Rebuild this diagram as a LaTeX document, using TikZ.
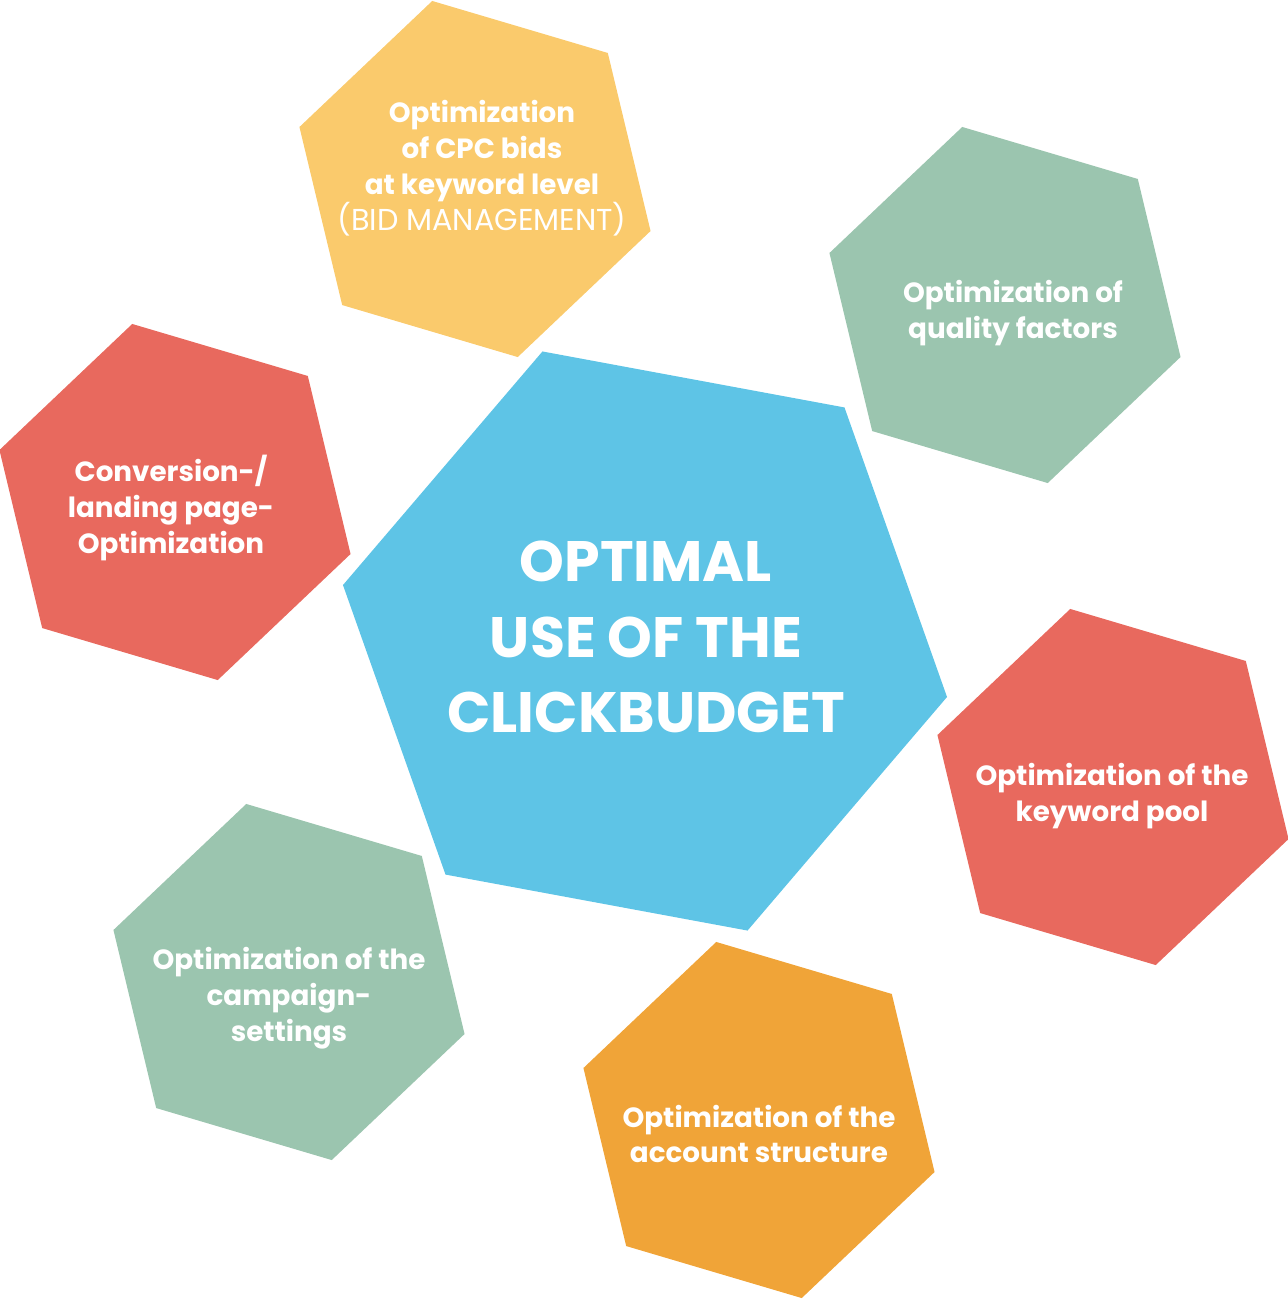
\documentclass[tikz,border=0pt]{standalone}
\usepackage{fontspec}
\setmainfont{Poppins}
\usetikzlibrary{shapes.geometric}
\definecolor{hexyellow}{RGB}{250,202,108}
\definecolor{hexgreen}{RGB}{155,197,175}
\definecolor{hexred}{RGB}{232,105,94}
\definecolor{hexblue}{RGB}{94,196,230}
\definecolor{hexorange}{RGB}{240,164,56}

\begin{document}
\begin{tikzpicture}[
  x=0.01cm, y=-0.01cm,
  hexbig/.style={regular polygon, regular polygon sides=6, shape border rotate=-10.5, minimum size=6.14cm, inner sep=0pt, outer sep=0pt},
  hexsmall/.style={regular polygon, regular polygon sides=6, shape border rotate=-16.5, minimum size=3.66cm, inner sep=0pt, outer sep=0pt},
  lbl/.style={text=white, align=center, font=\fontsize{7.9}{10.2}\selectfont\bfseries},
  biglbl/.style={text=white, align=center, font=\fontsize{16.2}{21.5}\selectfont\bfseries},
]
  \useasboundingbox (0,0) rectangle (1288,1299);

  % centre
  \node[hexbig, fill=hexblue] (budget) at (645,641) {};
  \node[biglbl] (budgetlbl) at (646,637) {OPTIMAL\\USE OF THE\\CLICKBUDGET};

  % ring of measures
  \node[hexsmall, fill=hexyellow] (bids) at (475,179) {};
  \node[lbl] (bidslbl) at (482,168) {Optimization\\of CPC bids\\at keyword level\\{\fontsize{8.6}{10.2}\selectfont\mdseries (BID MANAGEMENT)}};

  \node[hexsmall, fill=hexgreen] (quality) at (1005,305) {};
  \node[lbl] (qualitylbl) at (1013,313) {Optimization of\\quality factors};

  \node[hexsmall, fill=hexred] (landing) at (175,502) {};
  \node[lbl] (landinglbl) at (171,508) {Conversion-/\\landing page-\\Optimization};

  \node[hexsmall, fill=hexred] (keywords) at (1113,787) {};
  \node[lbl] (keywordslbl) at (1112,796) {Optimization of the\\keyword pool};

  \node[hexsmall, fill=hexorange] (account) at (759,1120) {};
  \node[lbl] (accountlbl) at (759,1134) {Optimization of the\\account structure};

  \node[hexsmall, fill=hexgreen] (campaign) at (289,982) {};
  \node[lbl] (campaignlbl) at (289,998) {Optimization of the\\campaign-\\settings};
\end{tikzpicture}
\end{document}
